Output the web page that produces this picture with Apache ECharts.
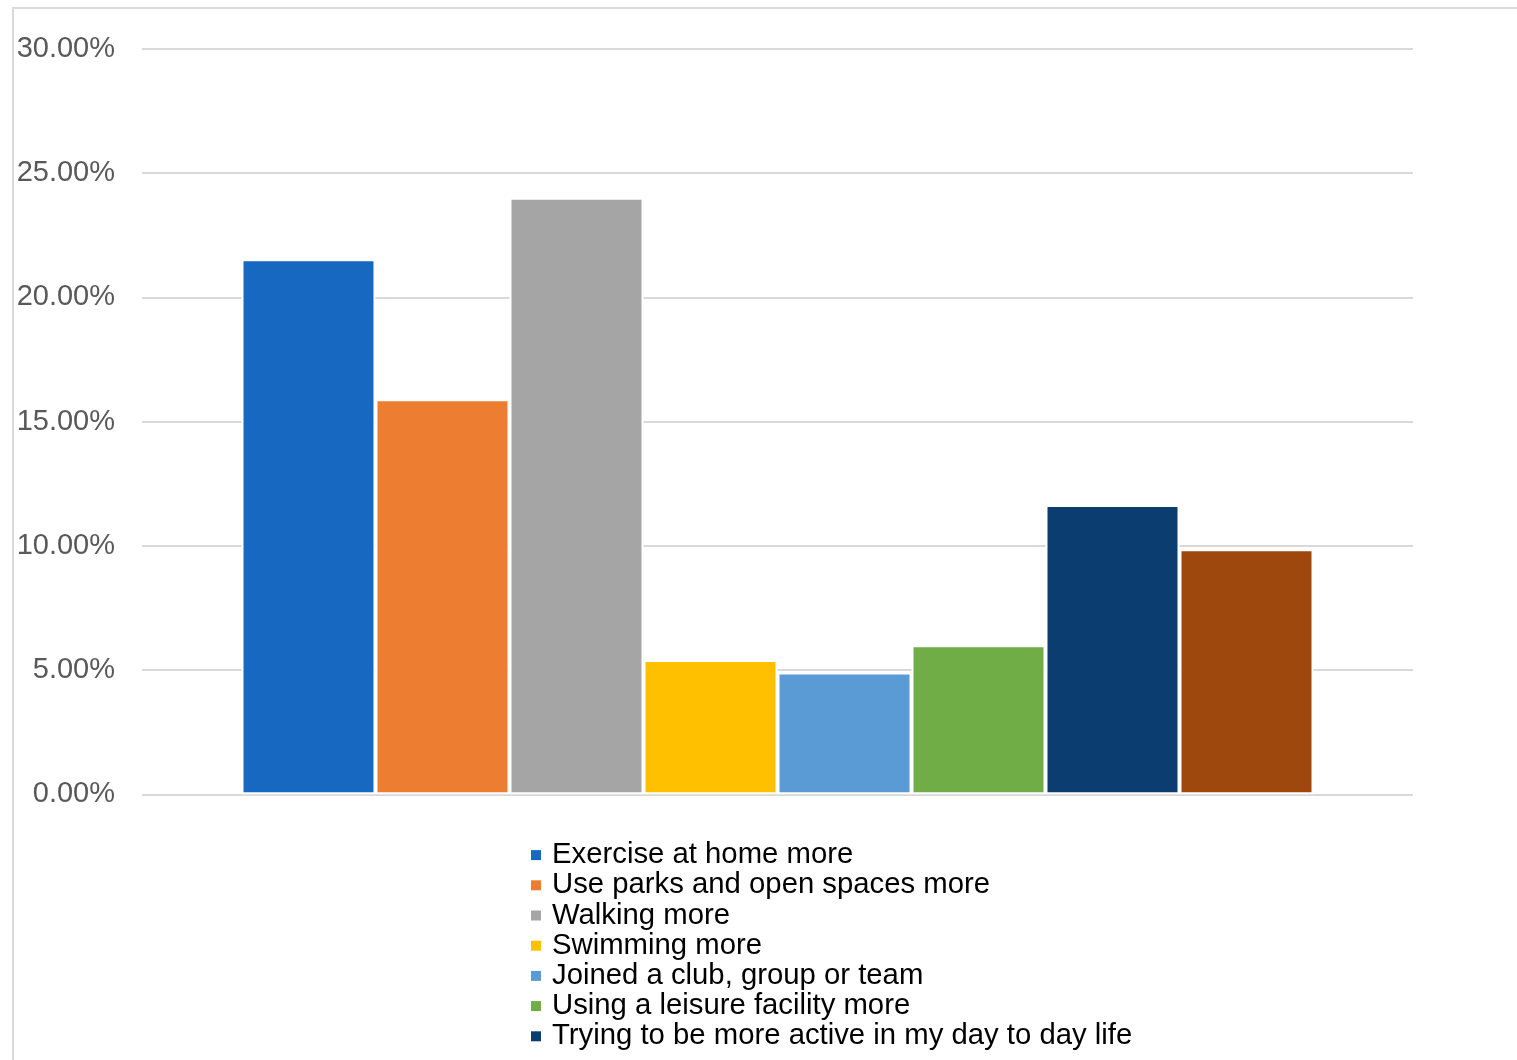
<!DOCTYPE html>
<html>
<head>
<meta charset="utf-8">
<style>
  html, body { margin: 0; padding: 0; background: #fff; }
  #chart { width: 1517px; height: 1060px; }
</style>
<script src="https://cdn.jsdelivr.net/npm/echarts@6/dist/echarts.min.js"></script>
</head>
<body>
<div id="chart"></div>
<script>
// Survey responses: change in physical activity (percent of respondents)
const categories = [''];
const seriesNames = [
  'Exercise at home more',
  'Use parks and open spaces more',
  'Walking more',
  'Swimming more',
  'Joined a club, group or team',
  'Using a leisure facility more',
  'Trying to be more active in my day to day life',
  'Other'
];
const seriesValues = [21.54, 15.90, 24.01, 5.41, 4.90, 6.00, 11.65, 9.86];
const seriesColors = ['#1668c1', '#ed7d31', '#a5a5a5', '#ffc000', '#5b9bd5', '#70ad47', '#0b3d70', '#9e480e'];
const yTicks = [0, 5, 10, 15, 20, 25, 30];
// Legend entries that fit inside the chart frame
const legendEntries = seriesNames.slice(0, 7);

const FONT = '"Liberation Sans", Arial, sans-serif';

const chart = echarts.init(document.getElementById('chart'), null, { renderer: 'canvas' });

// Bars sit side by side; a thin white outline separates neighbours
const series = seriesNames.map((name, i) => ({
  name: name,
  type: 'bar',
  data: [seriesValues[i]],
  barWidth: 134,
  barGap: '0%',
  itemStyle: { color: seriesColors[i], borderColor: '#ffffff', borderWidth: 2 }
}));

chart.setOption({
  animation: false,
  backgroundColor: '#ffffff',
  graphic: [{
    type: 'rect',
    shape: { x: 13, y: 8, width: 1700, height: 1200 },
    style: { fill: 'none', stroke: '#d9d9d9', lineWidth: 2 },
    silent: true,
    z: 0
  }],
  grid: { left: 142, right: 104, top: 49, bottom: 265.7, containLabel: false },
  xAxis: {
    type: 'category',
    data: categories,
    axisLine: { show: false },
    axisTick: { show: false },
    axisLabel: { show: false },
    splitLine: { show: false }
  },
  yAxis: {
    type: 'value',
    min: yTicks[0],
    max: yTicks[yTicks.length - 1],
    interval: yTicks[1] - yTicks[0],
    axisLine: { show: false },
    axisTick: { show: false },
    axisLabel: {
      color: '#595959',
      fontFamily: FONT,
      fontSize: 29,
      margin: 27,
      formatter: v => v.toFixed(2) + '%'
    },
    splitLine: { lineStyle: { color: '#d9d9d9', width: 2 } }
  },
  legend: {
    orient: 'vertical',
    left: 531,
    top: 840,
    height: 400,
    padding: 0,
    itemGap: 0,
    itemWidth: 10,
    itemHeight: 10,
    icon: 'rect',
    itemStyle: { borderWidth: 0 },
    textStyle: {
      color: '#000000',
      fontFamily: FONT,
      fontSize: 29.3,
      lineHeight: 30.2,
      padding: [0, 0, 0, 6]
    },
    data: legendEntries
  },
  series: series
});
</script>
</body>
</html>
